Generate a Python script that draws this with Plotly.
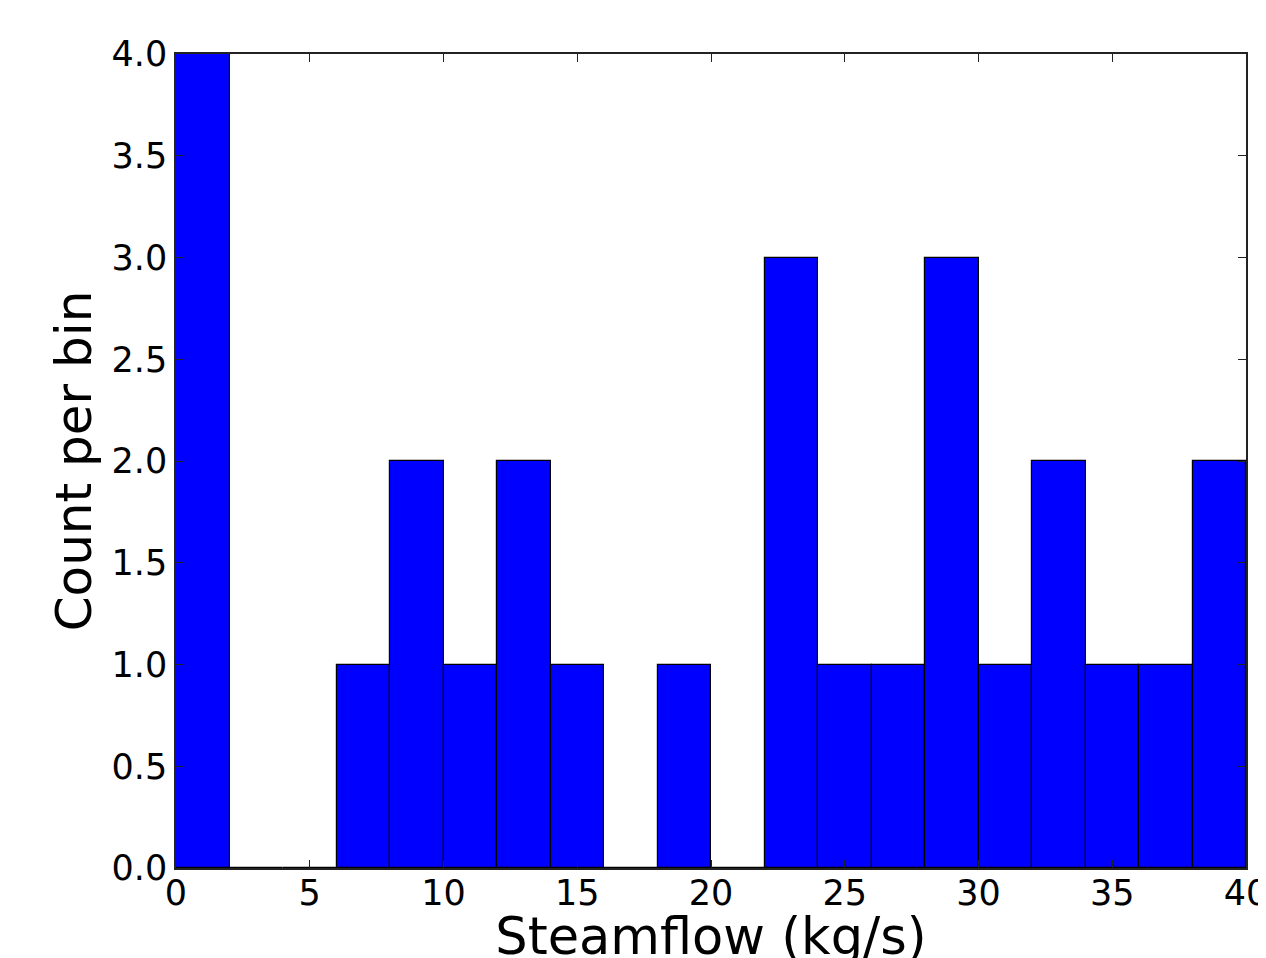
import plotly.graph_objects as go

bin_edges = [0, 2, 4, 6, 8, 10, 12, 14, 16, 18, 20, 22, 24, 26, 28, 30, 32, 34, 36, 38, 40]
counts = [4, 0, 0, 1, 2, 1, 2, 1, 0, 1, 0, 3, 1, 1, 3, 1, 2, 1, 1, 2]
x_ticks = [0, 5, 10, 15, 20, 25, 30, 35, 40]
y_ticks = [0.0, 0.5, 1.0, 1.5, 2.0, 2.5, 3.0, 3.5, 4.0]

centers = [(bin_edges[i] + bin_edges[i + 1]) / 2 for i in range(len(counts))]
widths = [bin_edges[i + 1] - bin_edges[i] for i in range(len(counts))]

fig = go.Figure()
fig.add_trace(go.Bar(
    x=centers, y=counts, width=widths,
    marker=dict(color="#0000ff", line=dict(color="black", width=1.2)),
    hoverinfo="skip",
))

font = "DejaVu Sans, Liberation Sans, sans-serif"
axis_common = dict(
    showgrid=False, zeroline=False, automargin=False,
    showline=True, linecolor="#222222", linewidth=1.5,
    mirror="allticks", ticks="inside", ticklen=8, tickwidth=1, tickcolor="#222222",
    tickfont=dict(family=font, size=35, color="black"),
    ticklabeloverflow="allow",
)
fig.update_layout(
    width=1258, height=958,
    margin=dict(l=168, r=20, t=46, b=98),
    paper_bgcolor="white", plot_bgcolor="white",
    showlegend=False, bargap=0,
    xaxis=dict(
        range=[0, 40], tickmode="array", tickvals=x_ticks,
        ticktext=[str(v) for v in x_ticks],
        ticklabelstandoff=-7,
        title=dict(text="Steamflow (kg/s)", font=dict(family=font, size=51, color="black"), standoff=6),
        **axis_common,
    ),
    yaxis=dict(
        range=[0, 4], tickmode="array", tickvals=y_ticks,
        ticktext=[f"{v:.1f}" for v in y_ticks],
        title=dict(text="Count per bin", font=dict(family=font, size=50, color="black"), standoff=4),
        **axis_common,
    ),
)
fig.write_html("out.html")
